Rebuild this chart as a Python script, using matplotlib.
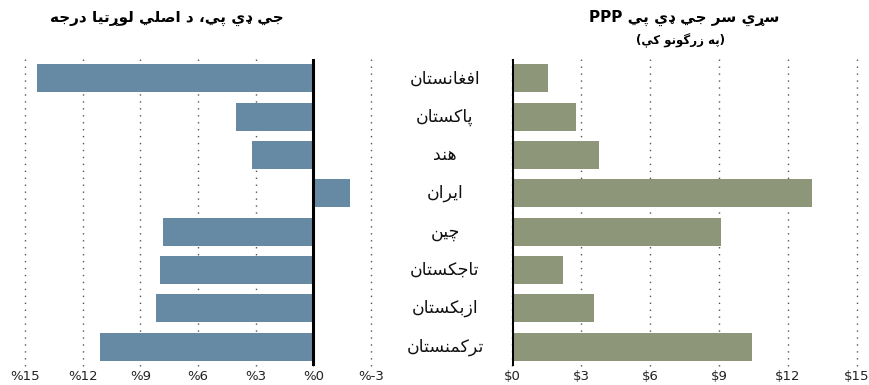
import matplotlib
matplotlib.use('Agg')
import matplotlib.pyplot as plt
from matplotlib.transforms import blended_transform_factory

# hewadona, د جي ډي پي لوړتیا (%) او سړي سر جي ډي پي (زرګونه ډالر)
countries = ['افغانستان', 'پاکستان', 'هند', 'ایران', 'چین', 'تاجکستان', 'ازبکستان', 'ترکمنستان']
growth = [14.4, 4.0, 3.2, -1.9, 7.8, 8.0, 8.2, 11.1]
gdp_ppp = [1.55, 2.8, 3.8, 13.05, 9.1, 2.2, 3.55, 10.45]

growth_ticks = [15, 12, 9, 6, 3, 0, -3]
growth_labels = ['%15', '%12', '%9', '%6', '%3', '%0', '%-3']
ppp_ticks = [0, 3, 6, 9, 12, 15]
ppp_labels = ['$0', '$3', '$6', '$9', '$12', '$15']

title_left = 'جي ډي پي، د اصلي لوړتيا درجه'
title_right = 'سړي سر جي ډي پي'
subtitle_right = 'په زرگونو کې'

# matplotlib nothing shapes arabic text, so pick presentation forms by hand
# (isolated, final, initial, medial); None = letter does not join forward
FORMS = {
    'ا': ('\uFE8D', '\uFE8E', None, None),
    'ب': ('\uFE8F', '\uFE90', '\uFE91', '\uFE92'),
    'پ': ('\uFB56', '\uFB57', '\uFB58', '\uFB59'),
    'ت': ('\uFE95', '\uFE96', '\uFE97', '\uFE98'),
    'ج': ('\uFE9D', '\uFE9E', '\uFE9F', '\uFEA0'),
    'چ': ('\uFB7A', '\uFB7B', '\uFB7C', '\uFB7D'),
    'د': ('\uFEA9', '\uFEAA', None, None),
    'ډ': ('\u0689', '\u0689', None, None),
    'ر': ('\uFEAD', '\uFEAE', None, None),
    'ړ': ('\u0693', '\u0693', None, None),
    'ز': ('\uFEAF', '\uFEB0', None, None),
    'س': ('\uFEB1', '\uFEB2', '\uFEB3', '\uFEB4'),
    'ص': ('\uFEB9', '\uFEBA', '\uFEBB', '\uFEBC'),
    'غ': ('\uFECD', '\uFECE', '\uFECF', '\uFED0'),
    'ف': ('\uFED1', '\uFED2', '\uFED3', '\uFED4'),
    'ک': ('\uFB8E', '\uFB8F', '\uFB90', '\uFB91'),
    'گ': ('\uFB92', '\uFB93', '\uFB94', '\uFB95'),
    'ل': ('\uFEDD', '\uFEDE', '\uFEDF', '\uFEE0'),
    'م': ('\uFEE1', '\uFEE2', '\uFEE3', '\uFEE4'),
    'ن': ('\uFEE5', '\uFEE6', '\uFEE7', '\uFEE8'),
    'ه': ('\uFEE9', '\uFEEA', '\uFEEB', '\uFEEC'),
    'و': ('\uFEED', '\uFEEE', None, None),
    'ي': ('\uFEF1', '\uFEF2', '\uFEF3', '\uFEF4'),
    'ی': ('\uFBFC', '\uFBFD', '\uFBFE', '\uFBFF'),
    'ې': ('\uFBE4', '\uFBE5', '\uFBE6', '\uFBE7'),
}


def shape(text):
    out = []
    for i, ch in enumerate(text):
        if ch not in FORMS:
            out.append(ch)
            continue
        prev = text[i - 1] if i > 0 else None
        nxt = text[i + 1] if i + 1 < len(text) else None
        join_prev = prev in FORMS and FORMS[prev][2] is not None
        join_next = nxt in FORMS and FORMS[ch][2] is not None
        if join_prev and join_next:
            out.append(FORMS[ch][3])
        elif join_prev:
            out.append(FORMS[ch][1])
        elif join_next:
            out.append(FORMS[ch][2])
        else:
            out.append(FORMS[ch][0])
    return ''.join(reversed(out))


plt.rcParams['font.family'] = ['DejaVu Sans']

fig = plt.figure(figsize=(8.7, 3.85), dpi=100)
W, H = 870, 385
top, bottom = 59, 366
ax1 = fig.add_axes([25 / W, 1 - bottom / H, (371 - 25) / W, (bottom - top) / H])
ax2 = fig.add_axes([512 / W, 1 - bottom / H, (857 - 512) / W, (bottom - top) / H])

ypos = list(range(len(countries)))
ax1.barh(ypos, growth, height=0.73, color='#678aa4', zorder=2)
ax2.barh(ypos, gdp_ppp, height=0.73, color='#8e9679', zorder=2)

ax1.set_xlim(15, -3)
ax2.set_xlim(0, 15)
for ax, ticks, labels in [(ax1, growth_ticks, growth_labels), (ax2, ppp_ticks, ppp_labels)]:
    ax.set_ylim(len(countries) - 0.5, -0.5)
    ax.set_yticks([])
    ax.set_xticks(ticks)
    ax.set_xticklabels(labels, fontsize=9.5, color='#222222')
    ax.tick_params(axis='x', length=0, pad=3)
    for s in ax.spines.values():
        s.set_visible(False)
    for t in ticks:
        ax.axvline(t, color='#555555', linewidth=1, linestyle=(0, (1, 4)), zorder=1, clip_on=False)
    ax.axvline(0, color='black', linewidth=2.2, zorder=3)

# country names between the two panels
trans = blended_transform_factory(fig.transFigure, ax2.transData)
for i, name in enumerate(countries):
    fig.text(445 / W, i, shape(name), transform=trans, ha='center', va='center',
             fontsize=12.5, color='#111111')

fig.text(167 / W, 1 - 18 / H, shape(title_left), ha='center', va='center',
         fontsize=11, fontweight='bold')
fig.text(684 / W, 1 - 18 / H, 'PPP ' + shape(title_right), ha='center', va='center',
         fontsize=11, fontweight='bold')
fig.text(680 / W, 1 - 41 / H, '(' + shape(subtitle_right) + ')', ha='center', va='center',
         fontsize=8.5, fontweight='bold')

fig.savefig('out.png', dpi=100)
